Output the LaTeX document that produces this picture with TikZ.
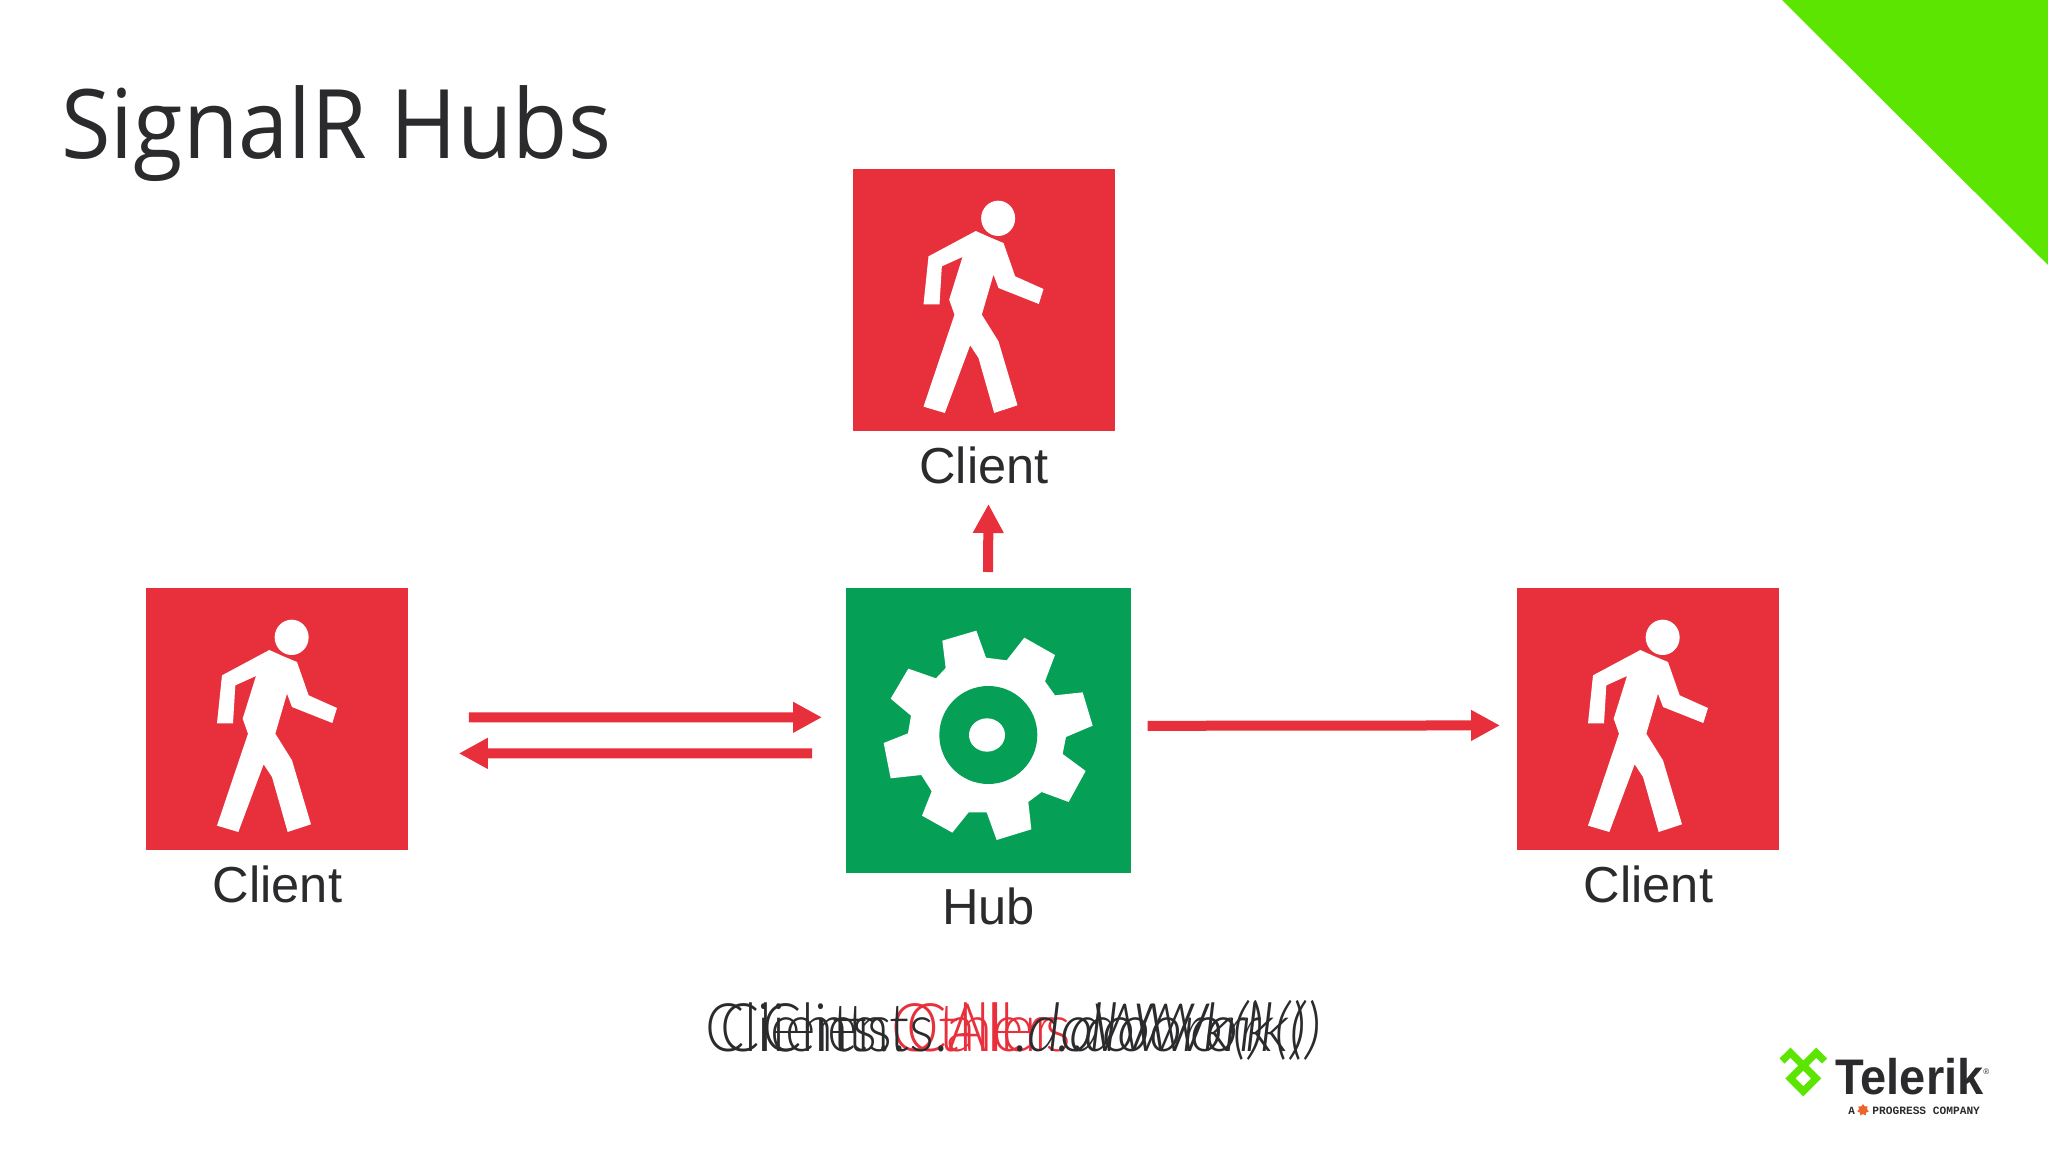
\documentclass[tikz,border=0pt]{standalone}
\usepackage{fontspec}
\usepackage{tikz}
\usetikzlibrary{arrows.meta,shapes.geometric}
\setmainfont{Liberation Sans}
\newfontfamily\titlefont{Open Sans}[FakeStretch=0.94]
\newfontfamily\callfont{Lato Light}[ItalicFont={Lato Light Italic},FakeStretch=0.87,ItalicFeatures={FakeStretch=0.97}]
\newfontfamily\targetfont{Lato Light}[FakeStretch=0.9]
\newfontfamily\brandfont{Liberation Sans Bold}[FakeStretch=0.94]
\newfontfamily\smallfont{Liberation Mono Bold}
\definecolor{rouge}{HTML}{E7303B}
\definecolor{vert}{HTML}{069F56}
\definecolor{lime}{HTML}{5CE500}
\definecolor{encre}{HTML}{2B2B2E}
\definecolor{orange}{HTML}{E8662A}
\newcommand{\target}[1]{{\targetfont\color{rouge}#1}}
\tikzset{
  clientbox/.style={fill=rouge,minimum size=131pt,inner sep=0pt,anchor=north west},
  hubbox/.style={fill=vert,minimum size=142.4pt,inner sep=0pt,anchor=north west},
  boxlabel/.style={text=encre,anchor=base,inner sep=0pt,font=\fontsize{25.3}{30}\selectfont},
  callcode/.style={text=encre,anchor=base,inner sep=0pt,font=\callfont\fontsize{33.5}{40}\selectfont},
  flow/.style={draw=rouge,line width=5pt,-{Triangle[length=14.5pt,width=14.5pt]}},
  walker/.pic={
    \fill[white] (228,262) -- (370,186) -- (410,204) -- (453,222) -- (488,322) -- (573,360)
      -- (559,405) -- (438,357) -- (423,317) -- (388,437) -- (438,517) -- (495,709) -- (425,732)
      -- (378,567) -- (353,529) -- (277,732) -- (213,713) -- (306,437) -- (290,392) -- (330,264)
      -- (268,292) -- (261,406) -- (213,406) -- cycle;
    \fill[white] (437,148) ellipse (51 and 53);
  },
  gear/.pic={
    \fill[white] (289,158) -- (391,128) -- (420,209) -- (482,217) -- (535,149) -- (627,201)
      -- (597,280) -- (627,322) -- (710,313) -- (740,413) -- (660,447) -- (650,498) -- (719,549)
      -- (668,642) -- (587,612) -- (547,642) -- (556,724) -- (452,756) -- (422,673) -- (368,673)
      -- (319,734) -- (228,683) -- (257,610) -- (226,561) -- (134,571) -- (113,465) -- (186,436)
      -- (195,383) -- (134,332) -- (187,242) -- (270,271) -- (299,240) -- cycle;
    \fill[vert] (427,441) circle (147);
    \fill[white] (423,441) ellipse (54 and 50);
  }
}

\begin{document}
\begin{tikzpicture}[x=0.5pt,y=-0.5pt]
  \useasboundingbox (0,0) rectangle (2048,1152);
  \fill[lime] (1782,0) -- (2048,0) -- (2048,265) -- cycle;

  % Title.
  \node[text=encre,anchor=base west,inner sep=0pt,font=\titlefont\fontsize{48}{56}\selectfont] (title) at (61,158) {SignalR Hubs};

  % Boxes.
  \node[clientbox] (clienttop) at (852.5,169) {};
  \node[clientbox] (clientleft) at (146,588) {};
  \node[clientbox] (clientright) at (1517,588) {};
  \node[hubbox] (hub) at (846,588) {};
  \pic[scale=0.3333] at (clienttop.north west) {walker};
  \pic[scale=0.3333] at (clientleft.north west) {walker};
  \pic[scale=0.3333] at (clientright.north west) {walker};
  \pic[scale=0.3333] at (hub.north west) {gear};

  % Labels.
  \node[boxlabel] (labeltop) at (984,483.5) {Client};
  \node[boxlabel] (labelleft) at (277.5,902.5) {Client};
  \node[boxlabel] (labelright) at (1648.5,902.5) {Client};
  \node[boxlabel] (labelhub) at (988.5,924.5) {Hub};

  % Arrows.
  \draw[flow] ([shift={(142,0)}]hub.north west) ++(0,-16) -- ([shift={(142.5,-84)}]hub.north west);
  \draw[flow] ([shift={(60,-2)}]clientleft.east) -- ([shift={(-24,-13.5)}]hub.west);
  \draw[flow] ([shift={(-34,22.5)}]hub.west) -- ([shift={(50,34)}]clientleft.east);
  \draw[flow] ([shift={(16,-5)}]hub.east) -- ([shift={(-17,6)}]clientright.west);

  % Calls.
  \node[callcode] (callothers) at (1013.5,1051) {Clients.\target{Others}.\textit{doWork()}};
  \node[callcode] (callcaller) at (1013.5,1051) {Clients.\target{Caller}.\textit{doWork()}};
  \node[callcode] (callall) at (1013.5,1051) {Clients.\target{All}.\textit{doWork()}};

  % Logo.
  \draw[lime,line width=3.6pt,miter limit=4] (1782,1061) -- (1790.4,1052.7) -- (1816.2,1078.4) -- (1803.3,1091.3) -- (1790.4,1078.4) -- (1816.2,1052.7) -- (1824.6,1061);
  \node[text=encre,anchor=base west,inner sep=0pt,font=\brandfont\fontsize{25}{30}\selectfont] (brand) at (1835,1094) {Telerik};
  \node[text=encre,anchor=base west,inner sep=0pt,font=\fontsize{4}{5}\selectfont] (brandmark) at (1983,1074) {®};
  \node[text=encre,anchor=base west,inner sep=0pt,font=\smallfont\fontsize{5.5}{7}\selectfont] (brandletter) at (1848,1114) {A};
  \node[star,star points=7,fill=orange,inner sep=0pt,minimum size=6pt] (brandstar) at (1863,1110) {};
  \node[text=encre,anchor=base west,inner sep=0pt,font=\smallfont\fontsize{5.6}{7}\selectfont] (brandline) at (1872,1114) {PROGRESS COMPANY};
\end{tikzpicture}
\end{document}
